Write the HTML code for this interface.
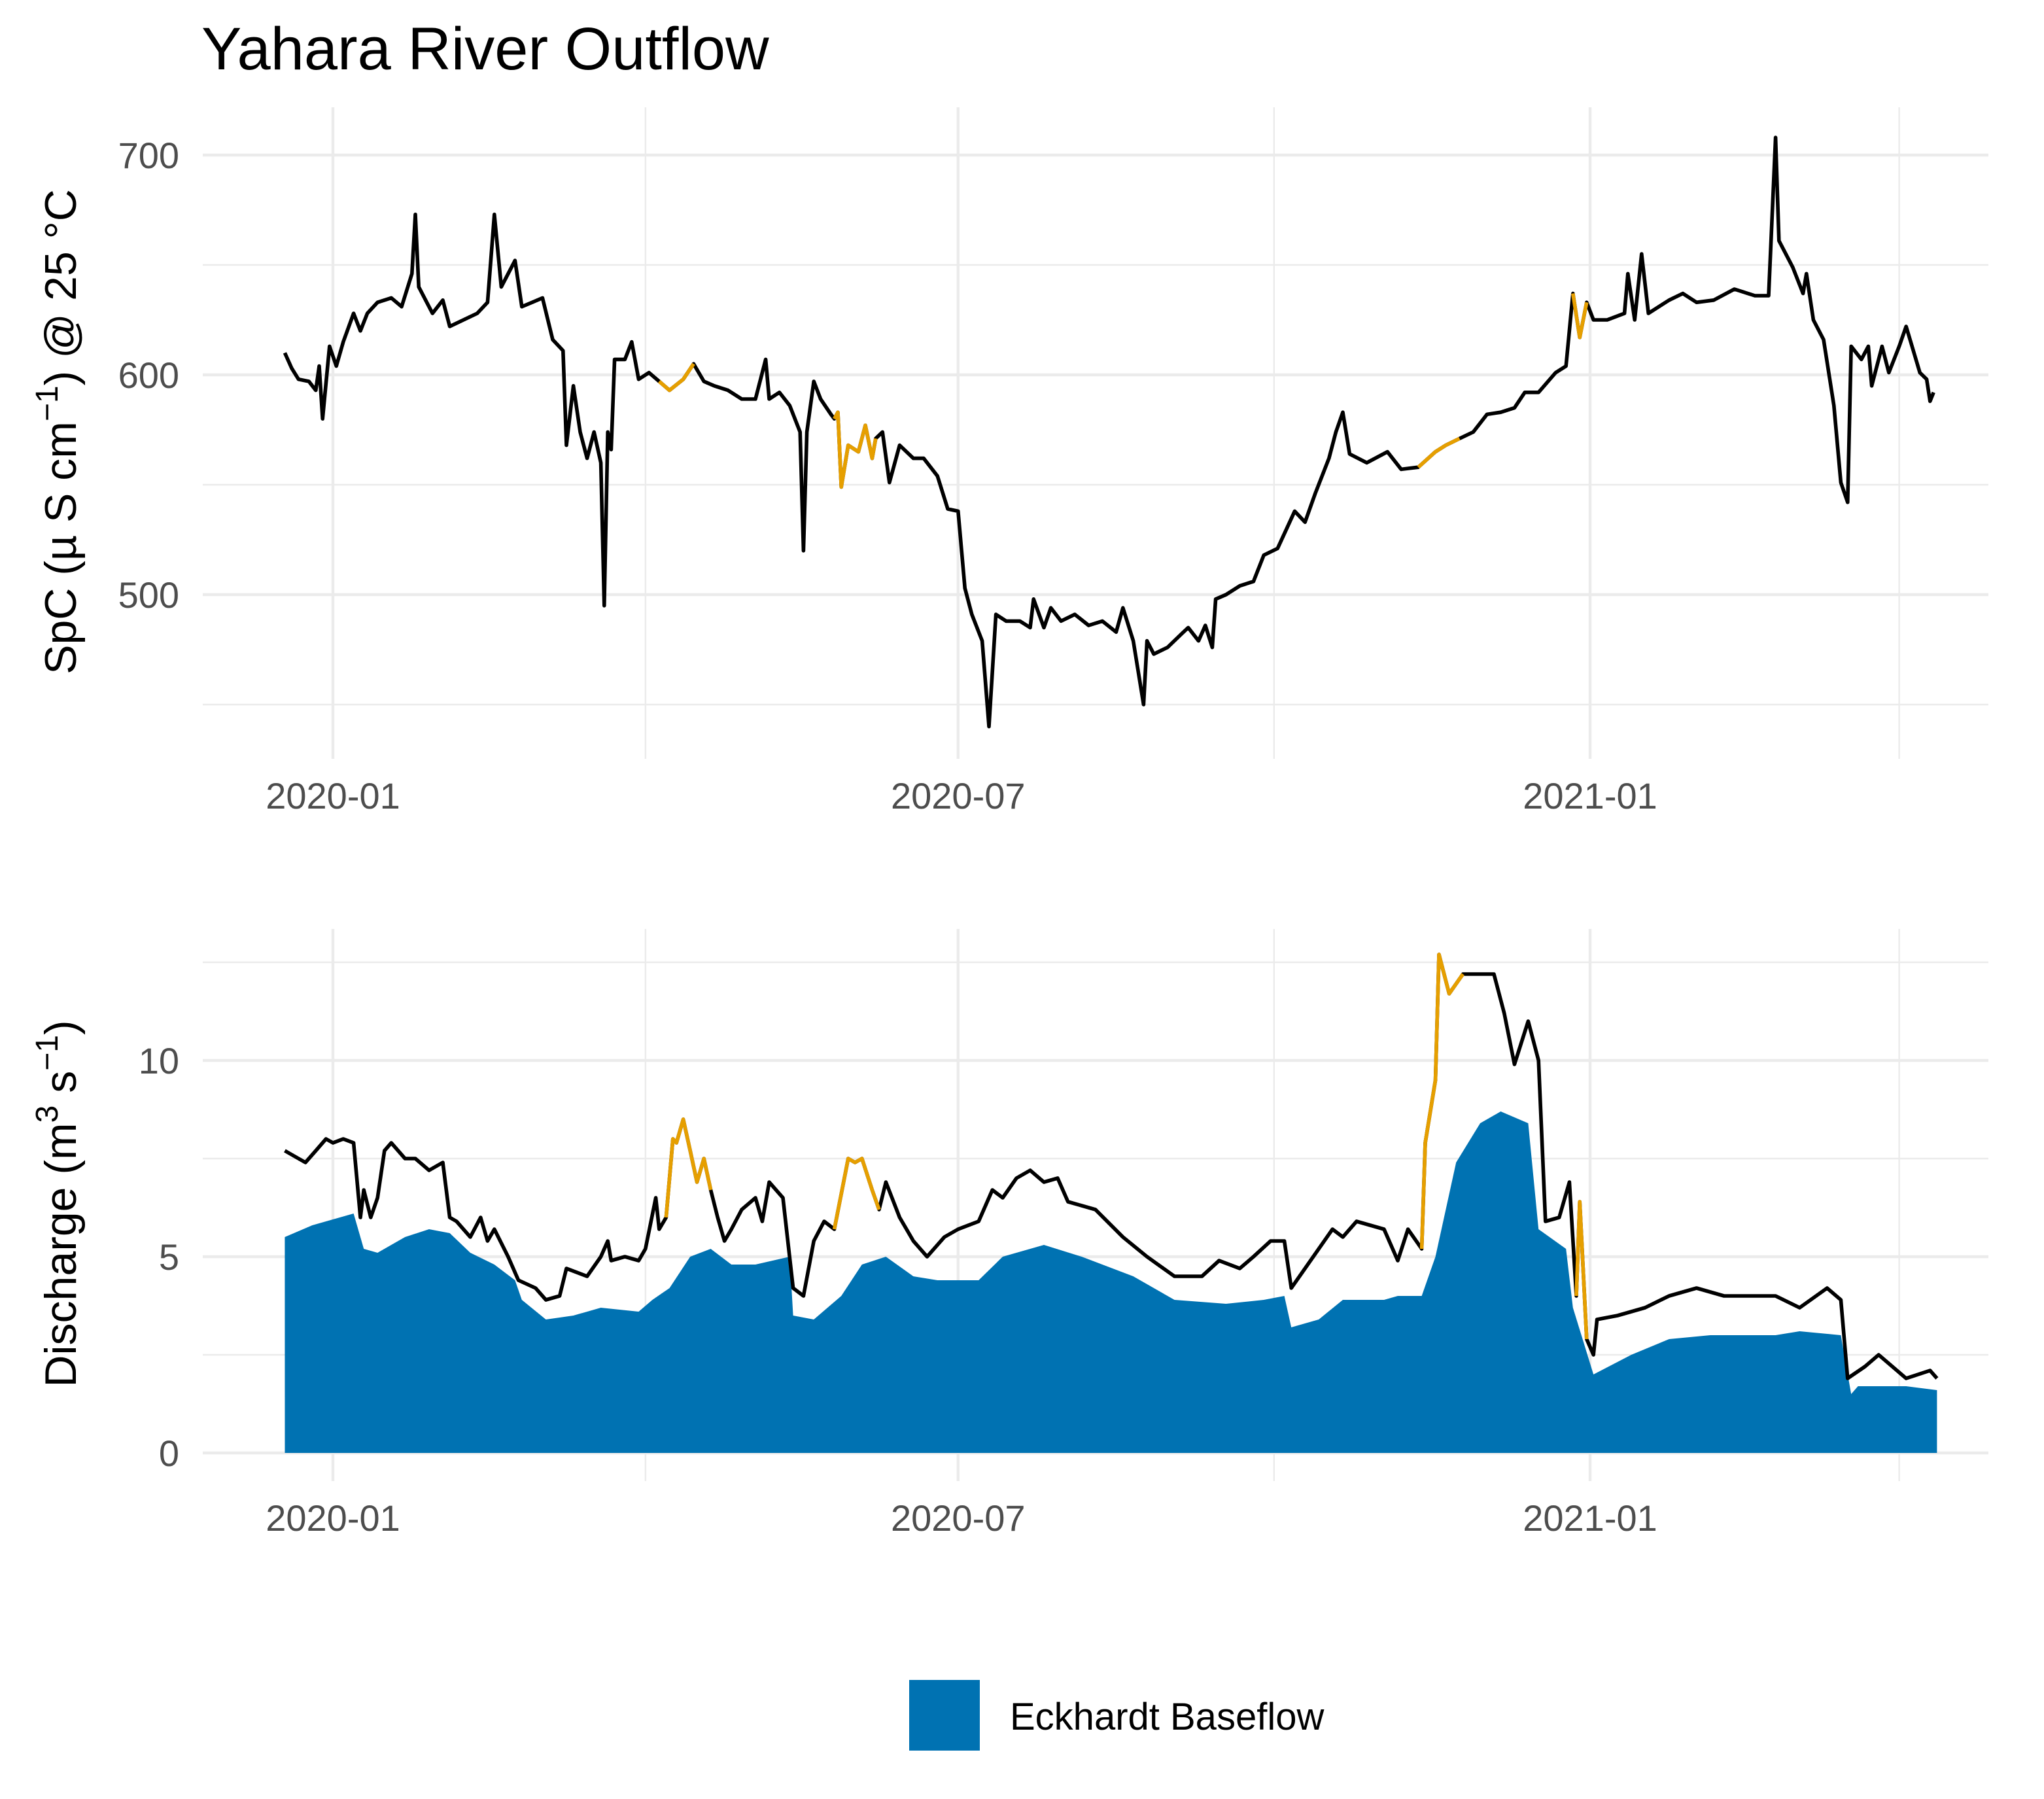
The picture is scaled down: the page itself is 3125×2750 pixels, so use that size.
<!DOCTYPE html>
<html><head><meta charset="utf-8"><style>
html,body{margin:0;padding:0;background:#fff;}
svg{display:block;font-family:"Liberation Sans",Arial,sans-serif;}
</style></head><body>
<svg id="chart" width="3125" height="2750" viewBox="0 0 1562.5 1375" xmlns="http://www.w3.org/2000/svg">
<rect x="0" y="0" width="1562.5" height="1375" fill="#fff"/>
<text x="154" y="53" font-size="46" fill="#000">Yahara River Outflow</text>
<g id="topPanel"></g>
<g id="botPanel"></g>
<text transform="translate(58,330) rotate(-90)" text-anchor="middle" font-size="34" fill="#000">SpC (µ S cm<tspan font-size="24" dy="-14">−1</tspan><tspan dy="14">) @ 25 °C</tspan></text>
<text transform="translate(58,920) rotate(-90)" text-anchor="middle" font-size="34" fill="#000">Discharge (m<tspan font-size="24" dy="-14">3</tspan><tspan dy="14"> s</tspan><tspan font-size="24" dy="-14">−1</tspan><tspan dy="14">)</tspan></text>
<rect x="695" y="1284" width="54" height="54" fill="#0072B2"/>
<text x="772" y="1322" font-size="29" fill="#000">Eckhardt Baseflow</text>
</svg>
<script>
// x tick dates as day offsets from 2020-01-01
const xMajorDays=[0,182,366];
const xMajorLabels=["2020-01","2020-07","2021-01"];
const xMinorDays=[91,274,456];
// SpC series: day offsets and values
const spcDays=[-14,-12,-10,-7,-5,-4,-3,-1,1,3,6,8,10,13,17,20,23,24,25,29,32,34,38,42,45,47,49,53,55,58,61,64,67,68,70,72,74,76,78,79,80,81,82,85,87,89,92,95,98,102,105,108,111,115,119,123,126,127,130,133,136,137,138,140,142,145,146,147,148,150,153,155,157,158,160,162,165,169,172,176,179,182,184,186,189,191,193,196,200,203,204,207,209,212,216,220,224,228,230,233,236,237,239,243,247,249,252,254,256,257,260,264,268,271,275,280,283,286,290,292,294,296,301,307,311,316,321,324,328,332,336,340,344,347,351,356,359,361,363,365,367,371,376,377,379,381,383,389,393,397,402,408,414,418,420,421,425,428,429,431,434,437,439,441,442,445,447,448,451,453,456,458,462,464,465,466];
const spcVals=[610,603,598,597,593,604,580,613,604,615,628,620,628,633,635,631,646,673,640,628,634,622,625,628,633,673,640,652,631,633,635,616,611,568,595,574,562,574,560,495,574,566,607,607,615,598,601,597,593,598,605,597,595,593,589,589,607,589,592,586,574,520,574,597,589,582,580,583,549,568,565,577,562,571,574,551,568,562,562,554,539,538,503,491,479,440,491,488,488,485,498,485,494,488,491,486,488,483,494,479,450,479,473,476,482,485,479,486,476,498,500,504,506,518,521,538,533,546,562,574,583,564,560,565,557,558,565,568,571,574,582,583,585,592,592,601,604,637,617,633,625,625,628,646,625,655,628,634,637,633,634,639,636,636,708,661,649,637,646,625,616,586,551,542,613,607,613,595,613,601,613,622,601,598,588,592];
const spcGapRanges=[[95,105],[146,159],[316,328],[361,365]];
// Discharge series
const qDays=[-14,-10,-8,-5,-2,0,3,6,8,9,11,13,15,17,21,24,28,32,34,36,40,43,45,47,51,54,59,62,66,68,74,78,80,81,85,89,91,94,95,97,99,100,102,104,106,108,110,112,114,116,119,123,125,127,131,134,137,140,143,146,150,152,154,157,159,161,165,169,173,178,182,188,192,195,199,203,207,211,214,222,230,237,245,253,258,264,268,273,277,279,283,287,291,294,298,306,310,313,317,318,321,322,325,329,332,338,341,344,348,351,353,357,360,362,363,365,367,368,374,382,389,397,405,412,420,427,435,439,441,446,450,454,458,465,467];
const qVals=[7.7,7.5,7.4,7.7,8.0,7.9,8.0,7.9,6.0,6.7,6.0,6.5,7.7,7.9,7.5,7.5,7.2,7.4,6.0,5.9,5.5,6.0,5.4,5.7,5.0,4.4,4.2,3.9,4.0,4.7,4.5,5.0,5.4,4.9,5.0,4.9,5.2,6.5,5.7,6.0,8.0,7.9,8.5,7.7,6.9,7.5,6.7,6.0,5.4,5.7,6.2,6.5,5.9,6.9,6.5,4.2,4.0,5.4,5.9,5.7,7.5,7.4,7.5,6.7,6.2,6.9,6.0,5.4,5.0,5.5,5.7,5.9,6.7,6.5,7.0,7.2,6.9,7.0,6.4,6.2,5.5,5.0,4.5,4.5,4.9,4.7,5.0,5.4,5.4,4.2,4.7,5.2,5.7,5.5,5.9,5.7,4.9,5.7,5.2,7.9,9.5,12.7,11.7,12.2,12.2,12.2,11.2,9.9,11.0,10.0,5.9,6.0,6.9,4.0,6.4,2.9,2.5,3.4,3.5,3.7,4.0,4.2,4.0,4.0,4.0,3.7,4.2,3.9,1.9,2.2,2.5,2.2,1.9,2.1,1.9];
const qGapRanges=[[97,110],[146,159],[317,330],[362,365]];
const bfDays=[-14,-6,2,6,9,13,21,28,34,40,47,53,55,62,70,78,89,93,98,104,110,116,123,133,134,140,148,154,161,169,176,188,195,207,218,233,245,260,271,277,279,287,294,306,310,317,321,327,334,340,348,351,359,361,367,378,389,401,420,427,439,442,444,458,467];
const bfVals=[5.5,5.8,6.0,6.1,5.2,5.1,5.5,5.7,5.6,5.1,4.8,4.4,3.9,3.4,3.5,3.7,3.6,3.9,4.2,5.0,5.2,4.8,4.8,5.0,3.5,3.4,4.0,4.8,5.0,4.5,4.4,4.4,5.0,5.3,5.0,4.5,3.9,3.8,3.9,4.0,3.2,3.4,3.9,3.9,4.0,4.0,5.0,7.4,8.4,8.7,8.4,5.7,5.2,3.7,2.0,2.5,2.9,3.0,3.0,3.1,3.0,1.5,1.7,1.7,1.6];
const spcTicks=[500,600,700], spcMinor=[450,550,650];
const qTicks=[0,5,10], qTickLabels=["0","5","10"], qMinor=[2.5,7.5,12.5];

const NS="http://www.w3.org/2000/svg";
const xS=d=>254.5+d*(961/366);
const yTop=v=>118.5+(700-v)*1.68;
const yBot=v=>1110.5-v*30;
const L=155,R=1520;
function mk(tag,attrs,parent){const e=document.createElementNS(NS,tag);for(const k in attrs)e.setAttribute(k,attrs[k]);parent.appendChild(e);return e;}

function grid(g,y,top,bottom,ticks,minor,labels){
  minor.forEach(v=>{const l=mk('line',{x1:L,x2:R,y1:y(v),y2:y(v),stroke:'#ebebeb','stroke-width':1.2},g);
    
    });
  xMinorDays.forEach(d=>{const l=mk('line',{x1:xS(d),x2:xS(d),y1:top,y2:bottom,stroke:'#ebebeb','stroke-width':1.2},g);
    
    });
  ticks.forEach((v,i)=>{const l=mk('line',{x1:L,x2:R,y1:y(v),y2:y(v),stroke:'#ebebeb','stroke-width':2.2},g);
    
    
    const t=mk('text',{x:137,y:y(v)+10,'text-anchor':'end','font-size':28,fill:'#4d4d4d'},g);t.textContent=labels[i];
    
    });
  xMajorDays.forEach((d,i)=>{const l=mk('line',{x1:xS(d),x2:xS(d),y1:top,y2:bottom,stroke:'#ebebeb','stroke-width':2.2},g);
    
    
    const t=mk('text',{x:xS(d),y:bottom+38,'text-anchor':'middle','font-size':28,fill:'#4d4d4d'},g);t.textContent=xMajorLabels[i];
    
    });
}
function line(g,days,vals,y,color,name,ranges){
  let segs=[];
  if(!ranges){segs=[days.map((d,i)=>[d,vals[i]])];}
  else ranges.forEach(r=>{segs.push(days.map((d,i)=>[d,vals[i]]).filter(p=>p[0]>=r[0]&&p[0]<=r[1]));});
  segs.forEach(s=>{if(s.length<2)return;
    const p=mk('path',{d:'M'+s.map(q=>xS(q[0]).toFixed(1)+','+y(q[1]).toFixed(1)).join('L'),fill:'none',stroke:color,'stroke-width':2.8,'stroke-linejoin':'round'},g);
    
    });
}
const topG=document.getElementById('topPanel'), botG=document.getElementById('botPanel');
grid(topG,yTop,82,580,spcTicks,spcMinor,spcTicks.map(String));
line(topG,spcDays,spcVals,yTop,'#000','spc-line');
line(topG,spcDays,spcVals,yTop,'#E69F00','spc-gapfill-line',spcGapRanges);
grid(botG,yBot,710,1132,qTicks,qMinor,qTickLabels);
const area=mk('path',{d:'M'+xS(bfDays[0])+','+yBot(0)+bfDays.map((d,i)=>'L'+xS(d).toFixed(1)+','+yBot(bfVals[i]).toFixed(1)).join('')+'L'+xS(bfDays[bfDays.length-1])+','+yBot(0)+'Z',fill:'#0072B2'},botG);


line(botG,qDays,qVals,yBot,'#000','discharge-line');
line(botG,qDays,qVals,yBot,'#E69F00','discharge-gapfill-line',qGapRanges);
</script>
</body></html>
